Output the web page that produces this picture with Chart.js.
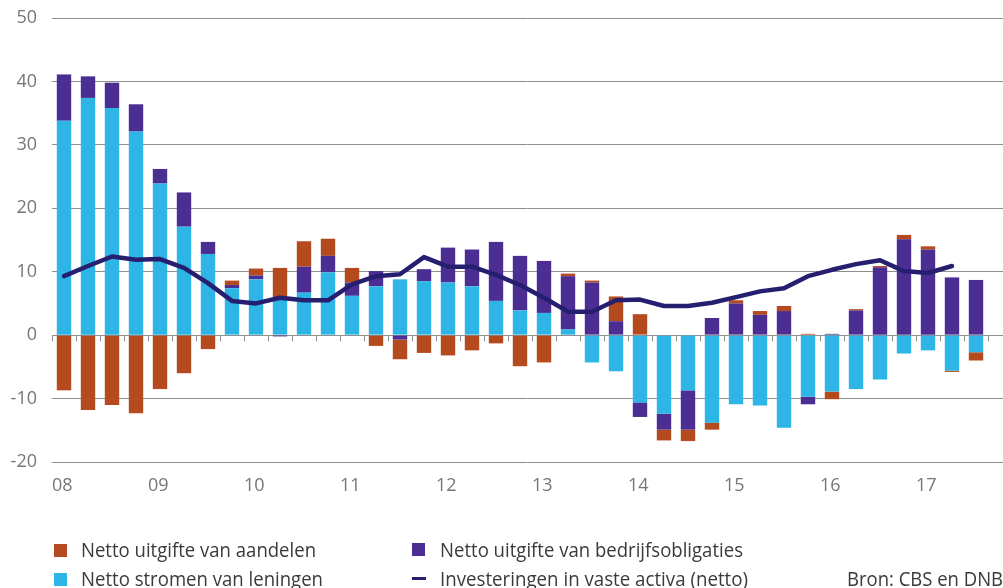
<!DOCTYPE html>
<html>
<head>
<meta charset="utf-8">
<script src="https://cdn.jsdelivr.net/npm/chart.js@4.4.0/dist/chart.umd.min.js"></script>
<style>
  html, body { margin: 0; padding: 0; background: #fff; overflow: hidden; }
  canvas { display: block; }
</style>
</head>
<body>
<canvas id="chart" width="1003" height="588"></canvas>
<script>
// quarters 2008Q1 .. 2017Q3
const quarters = [
  '2008Q1','2008Q2','2008Q3','2008Q4','2009Q1','2009Q2','2009Q3','2009Q4',
  '2010Q1','2010Q2','2010Q3','2010Q4','2011Q1','2011Q2','2011Q3','2011Q4',
  '2012Q1','2012Q2','2012Q3','2012Q4','2013Q1','2013Q2','2013Q3','2013Q4',
  '2014Q1','2014Q2','2014Q3','2014Q4','2015Q1','2015Q2','2015Q3','2015Q4',
  '2016Q1','2016Q2','2016Q3','2016Q4','2017Q1','2017Q2','2017Q3'
];
const yearLabels = ['08','09','10','11','12','13','14','15','16','17'];

const leningen = [
  33.8, 37.4, 35.8, 32.1, 23.9, 17.1, 12.8, 7.4,
  8.8, 5.8, 6.7, 9.9, 6.2, 7.7, 8.8, 8.5,
  8.3, 7.7, 5.4, 3.9, 3.5, 0.9, -4.3, -5.7,
  -10.6, -12.4, -8.7, -13.8, -10.9, -11.1, -14.6, -9.7,
  -8.9, -8.5, -7.0, -2.9, -2.4, -5.6, -2.7
];
const obligaties = [
  7.3, 3.4, 4.0, 4.3, 2.3, 5.4, 1.9, 0.5,
  0.6, -0.2, 4.1, 2.6, 2.1, 2.4, -0.7, 1.9,
  5.5, 5.8, 9.3, 8.6, 8.2, 8.4, 8.3, 2.2,
  -2.3, -2.5, -6.2, 2.7, 5.0, 3.2, 3.8, -1.2,
  0.2, 3.9, 10.7, 15.1, 13.5, 9.1, 8.7
];
const aandelen = [
  -8.7, -11.8, -11.0, -12.3, -8.5, -6.0, -2.2, 0.7,
  1.1, 4.8, 4.0, 2.7, 2.3, -1.7, -3.1, -2.8,
  -3.2, -2.4, -1.3, -4.9, -4.3, 0.4, 0.3, 3.9,
  3.3, -1.7, -1.8, -1.1, 0.5, 0.6, 0.8, 0.2,
  -1.2, 0.2, 0.2, 0.7, 0.5, -0.2, -1.3
];
const investeringen = [
  9.3, 10.9, 12.4, 11.9, 12.0, 10.6, 8.2, 5.4,
  5.0, 5.9, 5.5, 5.5, 8.0, 9.3, 9.6, 12.3,
  10.8, 10.8, 9.5, 7.9, 5.9, 3.7, 3.7, 5.5,
  5.6, 4.6, 4.6, 5.1, 6.0, 6.9, 7.4, 9.3,
  10.3, 11.2, 11.8, 10.1, 9.8, 10.9, null
];

const C_ORANGE = '#b44a1e';
const C_BLUE = '#2db5e5';
const C_PURPLE = '#4c2e92';
const C_LINE = '#261f6f';
const C_GRID = '#8e8e8e';
const C_TICK = '#767676';
const C_TEXT = '#3a3a3a';

const pts = arr => arr.map((v, i) => ({ x: i, y: v }));

// small tick marks on the zero line + the legend underneath
const extras = {
  id: 'extras',
  beforeDatasetsDraw(chart) {
    const { ctx } = chart;
    const xs = chart.scales.x, ys = chart.scales.y;
    const y0 = ys.getPixelForValue(0);
    ctx.save();
    ctx.strokeStyle = C_GRID;
    ctx.lineWidth = 1;
    for (let k = 0; k <= quarters.length; k++) {
      const x = Math.round(xs.getPixelForValue(k - 0.5)) + 0.5;
      ctx.beginPath();
      ctx.moveTo(x, y0);
      ctx.lineTo(x, y0 + 6);
      ctx.stroke();
    }
    ctx.restore();
  },
  afterDraw(chart) {
    const { ctx } = chart;
    const items = [
      { kind: 'box', color: C_ORANGE, x: 54, y: 544, text: 'Netto uitgifte van aandelen', tx: 81, base: 557, w: 235 },
      { kind: 'box', color: C_PURPLE, x: 412, y: 543, text: 'Netto uitgifte van bedrijfsobligaties', tx: 440, base: 557, w: 303 },
      { kind: 'box', color: C_BLUE, x: 54, y: 573, text: 'Netto stromen van leningen', tx: 81, base: 586, w: 242 },
      { kind: 'dash', color: C_LINE, x: 412, y: 577, text: 'Investeringen in vaste activa (netto)', tx: 440, base: 586, w: 308 },
      { kind: 'none', text: 'Bron: CBS en DNB', tx: 847, base: 586, w: 156 }
    ];
    ctx.save();
    ctx.font = '20px "Open Sans", "Noto Sans", sans-serif';
    ctx.textBaseline = 'alphabetic';
    ctx.textAlign = 'left';
    items.forEach(it => {
      if (it.kind === 'box') {
        ctx.fillStyle = it.color;
        ctx.fillRect(it.x, it.y, 13, 13);
      } else if (it.kind === 'dash') {
        ctx.fillStyle = it.color;
        ctx.fillRect(it.x, it.y, 14, 3);
      }
      const m = ctx.measureText(it.text).width;
      ctx.save();
      ctx.translate(it.tx, it.base);
      ctx.scale(it.w / m, 1);
      ctx.fillStyle = C_TEXT;
      ctx.fillText(it.text, 0, 0);
      ctx.restore();
    });
    ctx.restore();
  }
};

new Chart(document.getElementById('chart'), {
  data: {
    datasets: [
      {
        type: 'line', label: 'Investeringen in vaste activa (netto)',
        data: pts(investeringen), stack: 'line', order: 0,
        borderColor: C_LINE, borderWidth: 4.5, pointRadius: 0,
        borderCapStyle: 'round', borderJoinStyle: 'round', tension: 0, fill: false
      },
      {
        type: 'bar', label: 'Netto stromen van leningen',
        data: pts(leningen), stack: 'bars', order: 1, backgroundColor: C_BLUE
      },
      {
        type: 'bar', label: 'Netto uitgifte van bedrijfsobligaties',
        data: pts(obligaties), stack: 'bars', order: 2, backgroundColor: C_PURPLE
      },
      {
        type: 'bar', label: 'Netto uitgifte van aandelen',
        data: pts(aandelen), stack: 'bars', order: 3, backgroundColor: C_ORANGE
      }
    ]
  },
  options: {
    responsive: false,
    animation: false,
    events: [],
    datasets: { bar: { barPercentage: 1, categoryPercentage: 0.6 } },
    layout: { padding: { top: 18, right: 0, left: 0, bottom: 88 } },
    plugins: { legend: { display: false }, tooltip: { enabled: false } },
    scales: {
      x: {
        type: 'linear',
        min: -0.5,
        max: 39.125,
        offset: false,
        stacked: true,
        grid: { display: false, offset: false },
        border: { display: false },
        afterBuildTicks: s => { s.ticks = yearLabels.map((_, i) => ({ value: i * 4 - 0.5 })); },
        afterFit: s => { s.height = 38; s.paddingLeft = 0; s.paddingRight = 0; },
        ticks: {
          autoSkip: false, maxRotation: 0, align: 'start', padding: 5,
          color: C_TICK, font: { family: '"Open Sans", "Noto Sans", sans-serif', size: 18 },
          callback: (v, i) => yearLabels[i]
        }
      },
      y: {
        min: -20,
        max: 50,
        stacked: true,
        grid: { color: C_GRID, lineWidth: 1, drawTicks: false },
        border: { display: false },
        afterFit: s => { s.width = 52; s.paddingTop = 0; s.paddingBottom = 0; },
        ticks: {
          stepSize: 10, padding: 15,
          color: C_TICK, font: { family: '"Open Sans", "Noto Sans", sans-serif', size: 18 }
        }
      }
    }
  },
  plugins: [extras]
});
</script>
</body>
</html>
